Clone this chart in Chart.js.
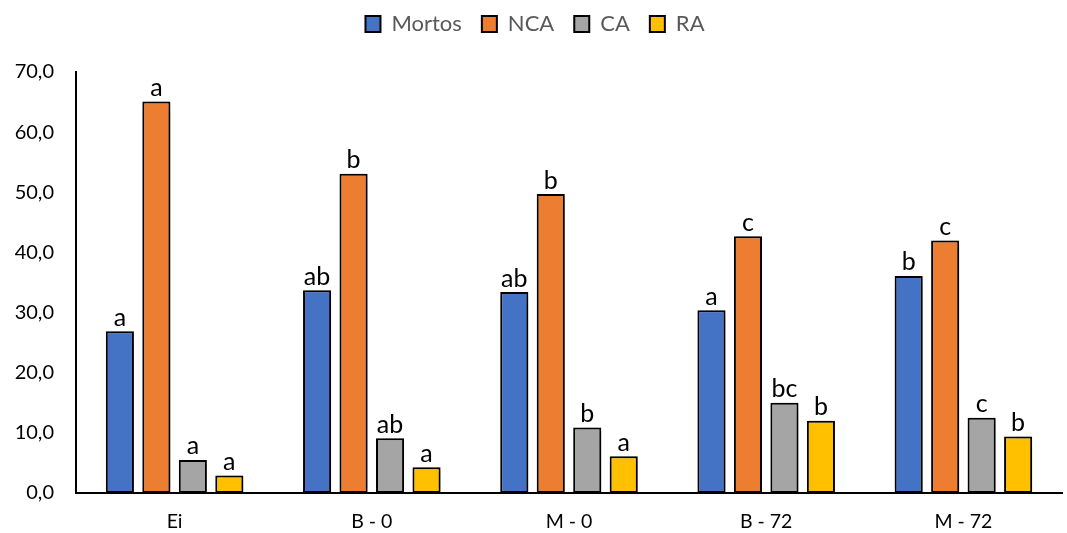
<!DOCTYPE html>
<html>
<head>
<meta charset="utf-8">
<script src="https://cdn.jsdelivr.net/npm/chart.js@4"></script>
<style>
  html, body { margin: 0; padding: 0; background: #fff; }
  #wrap { width: 1067px; height: 533px; }
</style>
</head>
<body>
<div id="wrap"><canvas id="chart"></canvas></div>
<script>
// categorias e valores
const categorias = ['Ei', 'B - 0', 'M - 0', 'B - 72', 'M - 72'];
const mortos = [26.9, 33.7, 33.4, 30.4, 36.1];
const nca = [65.1, 53.1, 49.7, 42.7, 42.0];
const ca = [5.5, 9.1, 10.9, 15.0, 12.5];
const ra = [2.9, 4.3, 6.1, 12.0, 9.4];

// letras de significancia
const letrasMortos = ['a', 'ab', 'ab', 'a', 'b'];
const letrasNca = ['a', 'b', 'b', 'c', 'c'];
const letrasCa = ['a', 'ab', 'b', 'bc', 'c'];
const letrasRa = ['a', 'a', 'a', 'b', 'b'];

const yTicks = [0, 10, 20, 30, 40, 50, 60, 70];

const FONT = 'Lato, "Open Sans", sans-serif';

// sombra nas barras
const shadowPlugin = {
  id: 'barShadow',
  beforeDatasetsDraw(chart) {
    const ctx = chart.ctx;
    ctx.save();
    ctx.shadowColor = 'rgba(0,0,0,0.4)';
    ctx.shadowBlur = 8;
    ctx.shadowOffsetX = 3;
    ctx.shadowOffsetY = 2;
  },
  afterDatasetsDraw(chart) {
    chart.ctx.restore();
  }
};

// letras acima das barras
const letterPlugin = {
  id: 'letters',
  afterDatasetsDraw(chart) {
    const ctx = chart.ctx;
    ctx.save();
    ctx.font = '25px ' + FONT;
    ctx.fillStyle = '#000';
    ctx.textAlign = 'center';
    ctx.textBaseline = 'bottom';
    chart.data.datasets.forEach((ds, i) => {
      const meta = chart.getDatasetMeta(i);
      meta.data.forEach((bar, j) => {
        ctx.fillText(ds.letras[j], bar.x, bar.y - 1);
      });
    });
    ctx.restore();
  }
};

const legendSpace = {
  id: 'legendSpace',
  beforeInit(chart) {
    const origFit = chart.legend.fit;
    chart.legend.fit = function () {
      origFit.bind(this)();
      this.height += 27;
    };
  }
};

new Chart(document.getElementById('chart'), {
  type: 'bar',
  data: {
    labels: categorias,
    datasets: [
      { label: 'Mortos', data: mortos, letras: letrasMortos, backgroundColor: '#4472C4' },
      { label: 'NCA', data: nca, letras: letrasNca, backgroundColor: '#ED7D31' },
      { label: 'CA', data: ca, letras: letrasCa, backgroundColor: '#A5A5A5' },
      { label: 'RA', data: ra, letras: letrasRa, backgroundColor: '#FFC000' }
    ].map(ds => Object.assign(ds, {
      borderColor: '#000',
      borderWidth: 2,
      borderSkipped: false,
      categoryPercentage: 0.74,
      barPercentage: 0.77
    }))
  },
  options: {
    responsive: true,
    maintainAspectRatio: false,
    animation: false,
    layout: { padding: { top: -7, right: 5, left: 8, bottom: 2 } },
    plugins: {
      legend: {
        position: 'top',
        labels: {
          boxWidth: 15,
          boxHeight: 16,
          padding: 20,
          color: '#595959',
          font: { family: FONT, size: 22 }
        }
      },
      tooltip: { enabled: false }
    },
    scales: {
      x: {
        afterFit(axis) {
          axis.height = 38;
        },
        grid: { display: false, drawTicks: false },
        border: { display: true, color: '#000', width: 2 },
        ticks: { color: '#000', padding: 17, font: { family: FONT, size: 19.5 } }
      },
      y: {
        min: 0,
        max: 70,
        afterBuildTicks(axis) {
          axis.ticks = yTicks.map(v => ({ value: v }));
        },
        afterFit(axis) {
          axis.width = 68;
        },
        grid: { display: false, drawTicks: false },
        border: { display: true, color: '#000', width: 2 },
        ticks: {
          color: '#000',
          padding: 22,
          font: { family: FONT, size: 20 },
          callback: v => v.toFixed(1).replace('.', ',')
        }
      }
    }
  },
  plugins: [shadowPlugin, letterPlugin, legendSpace]
});
</script>
</body>
</html>
